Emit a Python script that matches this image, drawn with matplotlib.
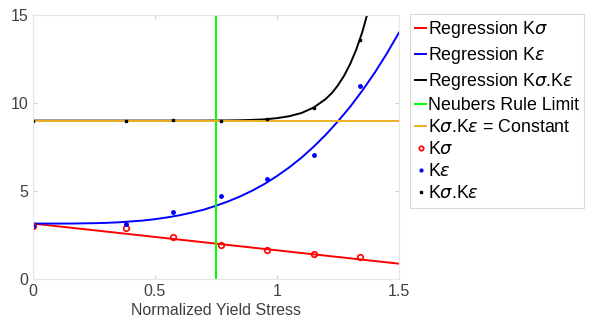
import numpy as np
import matplotlib
matplotlib.use('Agg')
import matplotlib.pyplot as plt

plt.rcParams['font.family'] = ['Liberation Sans', 'DejaVu Sans']
plt.rcParams['mathtext.fontset'] = 'dejavusans'

# measured points
stress = [0.0, 0.38, 0.575, 0.77, 0.96, 1.15, 1.34]
k_sigma = [3.03, 2.9, 2.39, 1.93, 1.65, 1.4, 1.27]
k_eps = [3.03, 3.1, 3.82, 4.73, 5.68, 7.05, 10.97]
k_prod = [9.0, 9.0, 9.02, 9.0, 9.08, 9.7, 13.6]

# regression curves
reg_x = [0.0, 0.05, 0.1, 0.15, 0.2, 0.25, 0.3, 0.35, 0.4, 0.45, 0.5,
         0.55, 0.6, 0.65, 0.7, 0.75, 0.8, 0.85, 0.9, 0.95, 1.0,
         1.05, 1.1, 1.15, 1.2, 1.25, 1.3, 1.35, 1.4, 1.45, 1.5]
reg_eps = [3.15, 3.15, 3.15, 3.15, 3.16, 3.17, 3.19, 3.22, 3.27, 3.32, 3.40,
           3.50, 3.62, 3.77, 3.94, 4.16, 4.41, 4.70, 5.03, 5.41, 5.85,
           6.34, 6.89, 7.51, 8.20, 8.96, 9.79, 10.71, 11.71, 12.81, 14.0]
prod_x = [0.0, 0.6, 0.7, 0.8, 0.85, 0.9, 0.95, 1.0, 1.05, 1.1, 1.15,
          1.2, 1.225, 1.25, 1.275, 1.3, 1.325, 1.35, 1.375, 1.4]
reg_prod = [9.0, 9.0, 9.0, 9.01, 9.02, 9.04, 9.07, 9.14, 9.25, 9.43, 9.74,
            10.23, 10.57, 11.01, 11.55, 12.22, 13.04, 14.05, 15.3, 16.82]
reg_sigma_x = [0.0, 1.5]
reg_sigma = [3.15, 0.87]
const_x = [0.0, 1.5]
const_val = [9.0, 9.0]
neuber_limit = 0.75

fig = plt.figure(figsize=(5.92, 3.2), dpi=100)
ax = fig.add_axes([33/592, 1-279/320, 366/592, 264/320])

lw = 1.4
ax.plot(reg_sigma_x, reg_sigma, color='#ff0000', lw=lw, label=r'Regression K$\sigma$')
ax.plot(reg_x, reg_eps, color='#0000ff', lw=lw, label=r'Regression K$\epsilon$')
ax.plot(prod_x, reg_prod, color='#000000', lw=lw, label=r'Regression K$\sigma$.K$\epsilon$')
ax.axvline(neuber_limit, color='#00ff00', lw=lw, label='Neubers Rule Limit')
ax.plot(const_x, const_val, color='#EDB120', lw=lw, label=r'K$\sigma$.K$\epsilon$ = Constant')
ax.plot(stress, k_sigma, 'o', color='#ff0000', mfc='none', ms=4, mew=1.2, ls='none', label=r'K$\sigma$')
ax.plot(stress, k_eps, '.', color='#0000ff', ms=5, ls='none', label=r'K$\epsilon$')
ax.plot(stress, k_prod, 's', color='#000000', ms=2, ls='none', label=r'K$\sigma$.K$\epsilon$')

ax.set_xlim(0, 1.5)
ax.set_ylim(0, 15)
ax.set_xticks([0, 0.5, 1, 1.5])
ax.set_xticklabels(['0', '0.5', '1', '1.5'])
ax.set_yticks([0, 5, 10, 15])
for s in ax.spines.values():
    s.set_color('#e6e6e6')
ax.tick_params(direction='in', length=3, color='#d0d0d0', labelcolor='#404040',
               labelsize=11.5, top=True, right=True)
ax.set_xlabel('Normalized Yield Stress', color='#404040', fontsize=11.5, labelpad=3)

leg = fig.legend(loc='upper left', bbox_to_anchor=(410/592, 1-14/320),
                 fontsize=12.8, handlelength=0.6, handletextpad=0.1,
                 labelspacing=0.28, borderpad=0.3, borderaxespad=0,
                 fancybox=False, framealpha=1, markerscale=0.8)
leg.get_frame().set_edgecolor('#d9d9d9')
leg.get_frame().set_linewidth(0.8)

fig.savefig('out.png', dpi=100)
